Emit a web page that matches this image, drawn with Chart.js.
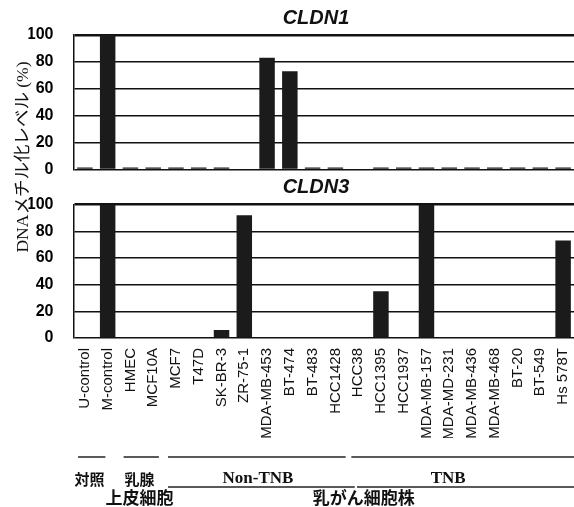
<!DOCTYPE html>
<html>
<head>
<meta charset="utf-8">
<script src="https://cdn.jsdelivr.net/npm/chart.js@4/dist/chart.umd.min.js"></script>
<style>
  html, body { margin: 0; padding: 0; background: #fff; }
  #wrap { position: relative; width: 574px; height: 507px; overflow: hidden; background: #fff; }
  #wrap canvas { position: absolute; left: 0; }
  #ytitle {
    position: absolute; left: -82px; top: 147px; width: 200px; height: 20px;
    line-height: 20px; text-align: center; white-space: nowrap;
    font: 17.5px 'Liberation Serif', 'Noto Sans CJK JP', serif; color: #111;
    transform: rotate(-90deg); transform-origin: 50% 50%;
  }
</style>
</head>
<body>
<div id="wrap">
  <canvas id="top" width="590" height="199" style="top:0"></canvas>
  <canvas id="bottom" width="590" height="332" style="top:175px"></canvas>
  <div id="ytitle">DNAメチル化レベル (%)</div>
</div>
<script>
// Cell lines on the shared category axis
const cellLines = ['U-control', 'M-control', 'HMEC', 'MCF10A', 'MCF7', 'T47D', 'SK-BR-3', 'ZR-75-1',
  'MDA-MB-453', 'BT-474', 'BT-483', 'HCC1428', 'HCC38', 'HCC1395', 'HCC1937', 'MDA-MB-157',
  'MDA-MD-231', 'MDA-MB-436', 'MDA-MB-468', 'BT-20', 'BT-549', 'Hs 578T'];

// Methylation level (%) per cell line
const cldn1 = [1.5, 100, 1.5, 1.5, 1.5, 1.5, 1.5, 0, 83, 73, 1.5, 1.5, 0, 1.5, 1.5, 1.5, 1.5, 1.5, 1.5, 1.5, 1.5, 1.5];
const cldn3 = [0, 100, 0, 0, 0, 0, 6, 92, 0, 0, 0, 0, 0, 35, 0, 100, 0, 0, 0, 0, 0, 73];

const yTicks = [0, 20, 40, 60, 80, 100];

// Group labels under the axis
const groupRow1 = ['対照', '乳腺', 'Non-TNB', 'TNB'];
const groupRow2 = ['上皮細胞', '乳がん細胞株'];

const BAR = '#1b1b1b';
const INK = '#111';

// Panel heading drawn above the plot area
const panelTitle = {
  id: 'panelTitle',
  afterDraw(chart, args, opts) {
    const ctx = chart.ctx;
    ctx.save();
    ctx.font = "italic bold 20px 'Liberation Sans', Arial, sans-serif";
    ctx.fillStyle = INK;
    ctx.textAlign = 'center';
    ctx.textBaseline = 'middle';
    ctx.fillText(opts.text, opts.x, chart.chartArea.top - opts.dy);
    ctx.restore();
  }
};

// Bracket lines and group names under the cell-line labels
const groupBrackets = {
  id: 'groupBrackets',
  afterDraw(chart) {
    const ctx = chart.ctx;
    const xs = chart.scales.x;
    const base = chart.chartArea.bottom;
    const px = v => xs.getPixelForValue(v);
    const line = (a, b, y) => {
      ctx.beginPath();
      ctx.moveTo(px(a), y);
      ctx.lineTo(px(b), y);
      ctx.stroke();
    };
    ctx.save();
    ctx.strokeStyle = '#222';
    ctx.lineWidth = 1.5;
    ctx.fillStyle = INK;
    ctx.textAlign = 'center';
    ctx.textBaseline = 'middle';

    // first row
    const y1 = base + 119;
    line(-0.3, 0.9, y1);
    line(1.7, 3.25, y1);
    line(3.65, 11.45, y1);
    line(11.7, 22.5, y1);
    const t1 = base + 141;
    ctx.font = "bold 15px 'Noto Sans CJK JP', sans-serif";
    ctx.fillText(groupRow1[0], px(0.2), t1);
    ctx.fillText(groupRow1[1], px(2.4), t1);
    ctx.font = "bold 17px 'Liberation Serif', serif";
    ctx.fillText(groupRow1[2], px(7.6), t1);
    ctx.fillText(groupRow1[3], px(15.95), t1);

    // second row
    const y2 = base + 149;
    line(3.65, 11.85, y2);
    line(11.95, 22.5, y2);
    const t2 = base + 160;
    ctx.font = "bold 17px 'Noto Sans CJK JP', sans-serif";
    ctx.fillText(groupRow2[0], px(2.4), t2);
    ctx.fillText(groupRow2[1], px(12.25), t2);
    ctx.restore();
  }
};

function yScale() {
  return {
    min: 0, max: 100,
    afterBuildTicks(scale) { scale.ticks = yTicks.map(v => ({ value: v })); },
    afterFit(scale) { scale.width = 45; },
    grid: {
      color: INK,
      lineWidth: c => (c.tick && c.tick.value === 100 ? 2.5 : 1.5),
      drawTicks: false
    },
    border: { display: true, color: INK, width: 1.5 },
    ticks: {
      padding: 20,
      color: '#000',
      font: { family: "'Liberation Sans', Arial, sans-serif", size: 16, weight: 'bold' }
    }
  };
}

function makeChart(id, values, title, showX, axisHeight, padding) {
  const x = {
    afterFit(scale) { scale.height = axisHeight; },
    grid: { display: false },
    border: { display: false },
    ticks: {
      display: showX,
      autoSkip: false, minRotation: 90, maxRotation: 90, padding: 2, color: INK,
      font: { family: "'Liberation Sans', Arial, sans-serif", size: 15 }
    }
  };

  return new Chart(document.getElementById(id), {
    type: 'bar',
    data: {
      labels: cellLines,
      datasets: [{ label: title, data: values, backgroundColor: BAR, borderWidth: 0,
        barPercentage: 0.68, categoryPercentage: 1 }]
    },
    options: {
      responsive: false, animation: false, devicePixelRatio: 1,
      layout: { padding },
      scales: { x, y: yScale() },
      plugins: {
        legend: { display: false },
        tooltip: { enabled: false },
        panelTitle: { text: title, x: 316, dy: 17 }
      }
    },
    plugins: showX ? [panelTitle, groupBrackets] : [panelTitle]
  });
}

makeChart('top', cldn1, 'CLDN1', false, 0, { left: 28.5, right: 15.5, top: 35, bottom: 6 });
makeChart('bottom', cldn3, 'CLDN3', true, 100, { left: 28.5, right: 15.5, top: 29, bottom: 69 });
</script>
</body>
</html>
